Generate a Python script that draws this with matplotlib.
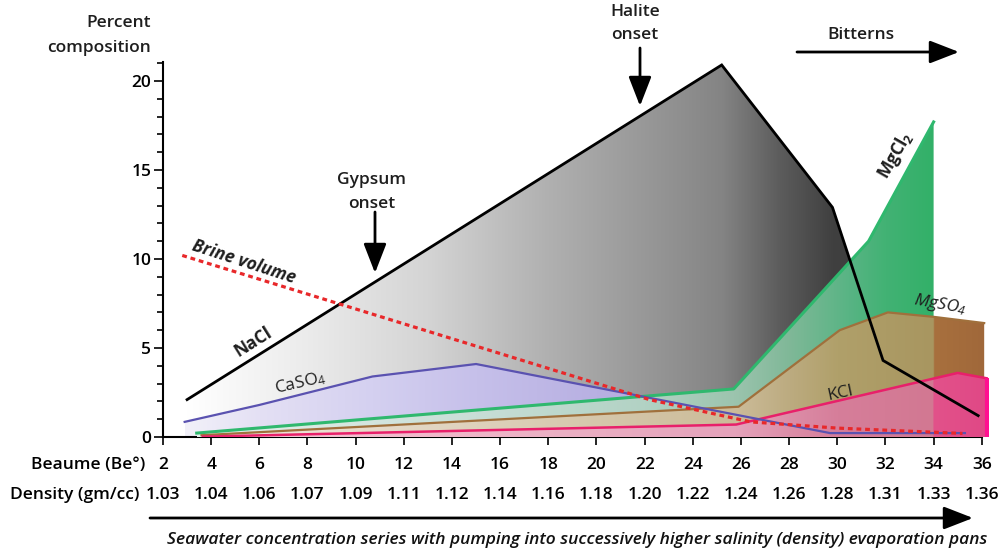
import numpy as np
import matplotlib
matplotlib.use("Agg")
import matplotlib.pyplot as plt
from matplotlib.patches import Polygon, FancyArrowPatch
from matplotlib.colors import to_rgba
from matplotlib.transforms import blended_transform_factory

plt.rcParams['font.family'] = ['Open Sans', 'DejaVu Sans']
plt.rcParams['mathtext.default'] = 'regular'

# Beaume scale and the matching brine density
beaume_ticks = [2, 4, 6, 8, 10, 12, 14, 16, 18, 20, 22, 24, 26, 28, 30, 32, 34, 36]
density_labels = ['1.03', '1.04', '1.06', '1.07', '1.09', '1.11', '1.12', '1.14', '1.16',
                  '1.18', '1.20', '1.22', '1.24', '1.26', '1.28', '1.31', '1.33', '1.36']

# Percent composition of each salt along the concentration series (x in degrees Beaume)
nacl_x = [3.0, 25.2, 29.8, 31.9, 35.85]
nacl_y = [2.1, 20.9, 12.9, 4.3, 1.2]

caso4_x = [2.9, 6.0, 10.7, 15.0, 29.7, 35.3]
caso4_y = [0.85, 1.8, 3.4, 4.1, 0.22, 0.22]

mgcl2_x = [3.4, 25.7, 31.3, 34.0]
mgcl2_y = [0.22, 2.7, 11.0, 17.7]

mgso4_x = [3.6, 25.9, 30.1, 32.1, 34.0, 36.1]
mgso4_y = [0.1, 1.7, 6.0, 7.0, 6.75, 6.4]

kcl_x = [3.65, 25.8, 35.0, 36.2]
kcl_y = [0.02, 0.7, 3.6, 3.3]

brine_x = [2.8, 22.2, 26.4, 30.0, 35.2]
brine_y = [10.2, 2.1, 0.85, 0.5, 0.2]

W, H = 1001, 556
fig = plt.figure(figsize=(W / 100, H / 100), dpi=100)
ax = fig.add_axes([163 / W, 1 - 437 / H, 826 / W, (437 - 62.3) / H])


def shade_under(xs, ys, stops, z):
    """Fill the area under a polyline with a horizontal colour gradient."""
    verts = [(xs[0], 0)] + list(zip(xs, ys)) + [(xs[-1], 0)]
    clip = Polygon(verts, closed=True, facecolor='none', edgecolor='none')
    ax.add_patch(clip)
    gx = np.linspace(xs[0], xs[-1], 1200)
    sx = [s[0] for s in stops]
    cols = np.array([to_rgba(s[1]) for s in stops])
    img = np.stack([np.interp(gx, sx, cols[:, k]) for k in range(4)], axis=-1)[None, :, :]
    im = ax.imshow(img, extent=[xs[0], xs[-1], 0, max(ys)], origin='lower',
                   aspect='auto', interpolation='bilinear', zorder=z)
    im.set_clip_path(clip)


edge = mgcl2_x[-1]

shade_under(nacl_x, nacl_y,
            [(3, '#ffffff'), (8, '#ebebeb'), (13, '#d4d4d4'), (18, '#b0b0b0'),
             (23.5, '#8f8f8f'), (25.2, '#848484'), (27.6, '#5c5c5c'), (29.8, '#404040'),
             (36, '#3c3c3c')], 1)
shade_under(caso4_x, caso4_y,
            [(2.9, '#f2f1f9'), (6, '#e4e0f4'), (10.7, '#d4d0f0'), (15, '#c6c0ea'),
             (20, '#b8b0e2'), (35.3, '#aaa2d8')], 2)
shade_under(mgcl2_x, mgcl2_y,
            [(3.4, '#e6f1ec'), (15, '#c8ded6'), (22, '#b2d2c4'), (25.7, '#9cc4ae'),
             (28, '#80b898'), (30.5, '#58b484'), (32, '#42b274'), (34, '#32b068')], 3)
shade_under(mgso4_x, mgso4_y,
            [(3.6, '#f2e8e0'), (15, '#ded2bc'), (25.9, '#cbbb98'), (28, '#bcab80'),
             (30, '#b0a06a'), (edge - 0.02, '#a89660'), (edge, '#a8703e'), (36.1, '#a0683a')], 4)
shade_under(kcl_x, kcl_y,
            [(3.65, '#f6ccd8'), (15, '#eeb6c8'), (25.8, '#e4a2ba'), (28, '#dc8ea8'),
             (30, '#d67e9a'), (edge - 0.02, '#d27892'), (edge, '#e2528a'), (36.2, '#e04886')], 5)

# Salt curves
ax.plot(nacl_x, nacl_y, color='black', lw=2.0, zorder=10, solid_joinstyle='miter')
ax.plot(caso4_x, caso4_y, color='#5a52b0', lw=1.6, zorder=9)
ax.plot(mgcl2_x, mgcl2_y, color='#2fb86e', lw=2.2, zorder=8)
ax.plot(mgso4_x, mgso4_y, color='#a0703c', lw=1.6, zorder=8)
ax.plot(kcl_x, kcl_y, color='#e8206a', lw=1.8, zorder=8)
ax.vlines(kcl_x[-1], 0, kcl_y[-1], color='#ff1090', lw=3.0, zorder=8)
ax.plot(brine_x, brine_y, color='#e8282a', lw=2.3, dashes=(1.5, 1.2), zorder=11)

# Axes styling
ax.set_xlim(2, 36.3)
ax.set_ylim(0, 21.05)
for s in ['top', 'right']:
    ax.spines[s].set_visible(False)
ax.spines['left'].set_linewidth(1.5)
ax.spines['bottom'].set_linewidth(1.5)
ax.spines['bottom'].set_bounds(2, 36)
ax.set_yticks([0, 5, 10, 15, 20])
ax.set_yticks(np.arange(0, 22, 1), minor=True)
ax.set_xticks(beaume_ticks)
ax.set_xticklabels([])
ax.tick_params(axis='y', which='major', direction='out', length=6.5, width=1.2,
               labelsize=12.5, pad=2)
ax.tick_params(axis='y', which='minor', direction='out', length=4.5, width=1.2)
ax.tick_params(axis='x', which='major', direction='out', length=6, width=1.2)
for lab in ax.get_yticklabels():
    lab.set_fontweight('semibold')

# Beaume and density scales under the axis
tr = blended_transform_factory(ax.transData, ax.transAxes)
ah = (437 - 62.3)
row1 = -(465 - 437) / ah
row2 = -(495 - 437) / ah
for b, d in zip(beaume_ticks, density_labels):
    ax.text(b, row1, str(b), transform=tr, ha='center', va='center',
            fontsize=12.5, fontweight='semibold', clip_on=False)
    ax.text(b, row2, d, transform=tr, ha='center', va='center',
            fontsize=12.5, fontweight='semibold', clip_on=False)
fig.text(145 / W, 1 - 465 / H, 'Beaume (Be°)', ha='right', va='center',
         fontsize=12.5, fontweight='semibold')
fig.text(140 / W, 1 - 495 / H, 'Density (gm/cc)', ha='right', va='center',
         fontsize=12.5, fontweight='semibold')

# Curve labels
lab_kw = dict(ha='center', va='center', color='#1e1e1e', zorder=12)
ax.text(5.74, 5.34, 'NaCl', rotation=32, fontsize=12.5, fontweight='bold', **lab_kw)
ax.text(5.36, 9.83, 'Brine volume', rotation=-18, fontsize=12.5, fontweight='bold',
        style='italic', **lab_kw)
ax.text(7.69, 3.03, 'CaSO$_4$', rotation=13, fontsize=12.5, **lab_kw)
ax.text(32.4, 15.84, 'MgCl$_2$', rotation=60, fontsize=12.5, fontweight='bold', **lab_kw)
ax.text(34.27, 7.42, 'MgSO$_4$', rotation=-10, fontsize=12.5, style='italic', **lab_kw)
ax.text(30.11, 2.47, 'KCl', rotation=12, fontsize=12.5, **lab_kw)


# Annotations around the plot, placed in figure pixels
def fxy(px, py):
    return (px / W, 1 - py / H)


txt_kw = dict(ha='center', va='center', fontsize=12.5, fontweight='semibold', color='#1e1e1e')
fig.text(*fxy(151, 23), 'Percent', **{**txt_kw, 'ha': 'right'})
fig.text(*fxy(151, 48), 'composition', **{**txt_kw, 'ha': 'right'})
fig.text(*fxy(635, 12), 'Halite', **txt_kw)
fig.text(*fxy(635, 35), 'onset', **txt_kw)
fig.text(*fxy(372, 180), 'Gypsum', **txt_kw)
fig.text(*fxy(372, 204), 'onset', **txt_kw)
fig.text(*fxy(861, 35), 'Bitterns', **txt_kw)

arrow_kw = dict(arrowstyle='-|>,head_length=0.9,head_width=0.35', color='black',
                lw=2.0, shrinkA=0, shrinkB=0, mutation_scale=20)
for p0, p1 in [((640, 48), (640, 106)), ((375, 212), (375, 273)),
               ((797, 52), (959, 52)), ((150, 518), (973, 518))]:
    fig.add_artist(FancyArrowPatch(fxy(*p0), fxy(*p1), transform=fig.transFigure, **arrow_kw))

fig.text(*fxy(577, 540),
         'Seawater concentration series with pumping into successively higher salinity (density) evaporation pans',
         ha='center', va='center', fontsize=12.5, style='italic', fontweight='semibold',
         color='#111111')

fig.savefig('out.png', dpi=100)
